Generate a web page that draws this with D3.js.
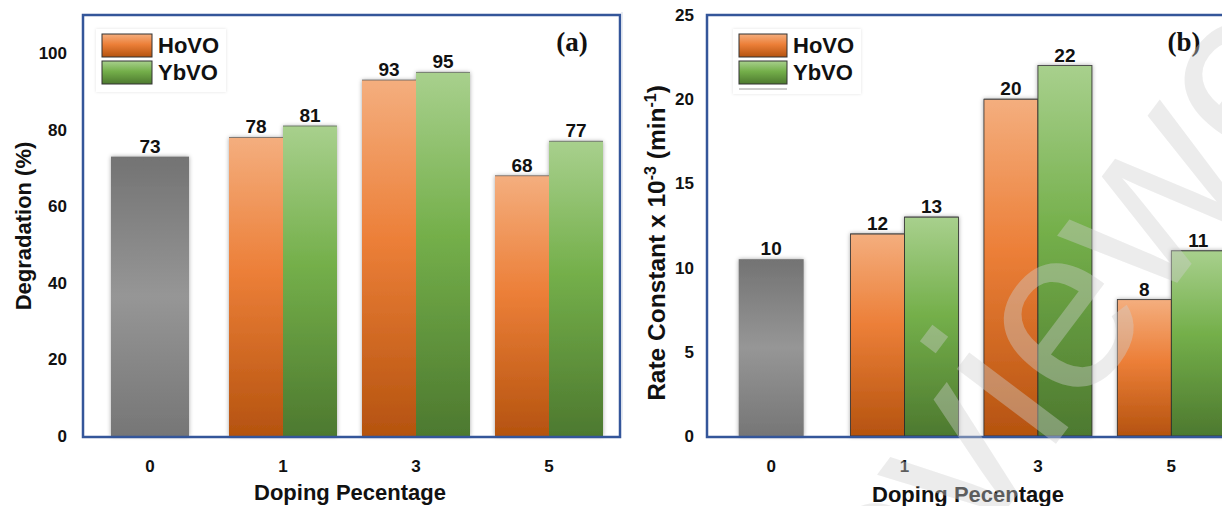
<!DOCTYPE html>
<html><head><meta charset="utf-8">
<script src="https://cdn.jsdelivr.net/npm/d3@7/dist/d3.min.js"></script>
<style>
html,body{margin:0;padding:0;background:#fff;}
svg{display:block;font-family:Arial,"Liberation Sans",sans-serif;}
</style></head>
<body><svg id="c" width="1222" height="506"></svg>
<script>
// ---- data ----
const categories = ["0", "1", "3", "5"];
const seriesNames = ["HoVO", "YbVO"];
// Panel (a): degradation (%)
const undopedDeg = 73;
const hovoDeg = [null, 78, 93, 68];
const ybvoDeg = [null, 81, 95, 77];
const degTicks = [0, 20, 40, 60, 80, 100];
// Panel (b): rate constant x 10^-3 (min^-1)
const undopedRate = 10.5;
const undopedRateLabel = "10";
const hovoRate = [null, 12, 20, 8.1];
const hovoRateLabels = [null, "12", "20", "8"];
const ybvoRate = [null, 13, 22, 11];
const ybvoRateLabels = [null, "13", "22", "11"];
const rateTicks = [0, 5, 10, 15, 20, 25];

const svg = d3.select("#c");
const defs = svg.append("defs");
function vgrad(id, stops){
  const g = defs.append("linearGradient").attr("id", id).attr("x1",0).attr("y1",0).attr("x2",0).attr("y2",1);
  stops.forEach(s => g.append("stop").attr("offset", s[0]).attr("stop-color", s[1]));
}
vgrad("gOr", [[0,"#F4AE7E"],[0.45,"#EC7F38"],[1,"#B5530F"]]);
vgrad("gGr", [[0,"#A8D08D"],[0.45,"#74AF4A"],[1,"#4D792F"]]);
vgrad("gGy", [[0,"#737373"],[0.5,"#969696"],[1,"#767676"]]);
const f = defs.append("filter").attr("id","sh").attr("x","-20%").attr("y","-10%").attr("width","140%").attr("height","120%");
f.append("feDropShadow").attr("dx",0).attr("dy",0).attr("stdDeviation",2.2).attr("flood-color","#000").attr("flood-opacity",0.35);
const fl = defs.append("filter").attr("id","shl").attr("x","-10%").attr("y","-10%").attr("width","120%").attr("height","120%");
fl.append("feDropShadow").attr("dx",0).attr("dy",0).attr("stdDeviation",1.5).attr("flood-color","#000").attr("flood-opacity",0.12);

const fills = {HoVO:"url(#gOr)", YbVO:"url(#gGr)"};
const frameColor = "#34569A";

function panel(o){
  const g = svg.append("g");
  const x = d3.scaleBand().domain(categories).range(o.xRange).padding(0);
  const y = d3.scaleLinear().domain(o.yDomain).range([o.bottom, o.top]);
  const sub = d3.scaleBand().domain(seriesNames).range([-o.pairW/2, o.pairW/2]).padding(0);

  // bars
  const bars = g.append("g").attr("filter","url(#sh)");
  const cx0 = x("0") + x.bandwidth()/2;
  bars.append("rect").attr("x", cx0 - o.grayW/2).attr("width", o.grayW)
    .attr("y", y(o.undoped)).attr("height", y(0) - y(o.undoped)).attr("fill","url(#gGy)");
  const data = [];
  categories.forEach((c,i) => {
    seriesNames.forEach((s,j) => {
      const v = o.series[j][i];
      if (v != null) data.push({c, s, v, lab: o.labels[j][i]});
    });
  });
  bars.selectAll("rect.b").data(data).join("rect").attr("class","b")
    .attr("x", d => x(d.c) + x.bandwidth()/2 + sub(d.s))
    .attr("width", sub.bandwidth())
    .attr("y", d => y(d.v)).attr("height", d => y(0) - y(d.v))
    .attr("fill", d => fills[d.s])
    .attr("stroke", o.barStroke ? "#2b2b2b" : "none").attr("stroke-width", 0.8);
  g.selectAll("line.top").data(data).join("line").attr("class","top")
    .attr("x1", d => x(d.c) + x.bandwidth()/2 + sub(d.s))
    .attr("x2", d => x(d.c) + x.bandwidth()/2 + sub(d.s) + sub.bandwidth())
    .attr("y1", d => y(d.v)).attr("y2", d => y(d.v))
    .attr("stroke","#555").attr("stroke-width",1).attr("opacity",0.7);

  // value labels
  const lab = g.append("g").attr("font-weight","bold").attr("font-size",19).attr("fill","#111").attr("text-anchor","middle");
  lab.append("text").attr("x", cx0).attr("y", y(o.undoped) - 4).text(o.undopedLabel);
  lab.selectAll("text.v").data(data).join("text").attr("class","v")
    .attr("x", d => x(d.c) + x.bandwidth()/2 + sub(d.s) + sub.bandwidth()/2)
    .attr("y", d => y(d.v) - 4).text(d => d.lab);

  // frame
  g.append("rect").attr("x", o.frameX).attr("y", o.top).attr("width", o.frameW).attr("height", o.bottom - o.top + 1)
    .attr("fill","none").attr("stroke", frameColor).attr("stroke-width", 2.5);

  // axes
  const ya = d3.axisLeft(y).tickValues(o.ticks).tickSize(0).tickPadding(o.yPad);
  const yg = g.append("g").attr("transform", `translate(${o.frameX},0)`).call(ya);
  yg.select(".domain").remove();
  yg.selectAll("text").attr("font-size",17).attr("font-weight","bold").attr("fill","#111")
    .attr("font-family","Arial,'Liberation Sans',sans-serif");
  const xa = d3.axisBottom(x).tickSize(0).tickPadding(24);
  const xg = g.append("g").attr("transform", `translate(0,${o.bottom})`).call(xa);
  xg.select(".domain").remove();
  xg.selectAll("text").attr("font-size",17).attr("font-weight","bold").attr("fill","#111")
    .attr("font-family","Arial,'Liberation Sans',sans-serif");

  // axis titles
  g.append("text").attr("x", o.xTitleX).attr("y", o.xTitleY).attr("text-anchor","middle")
    .attr("font-size",22).attr("font-weight","bold").attr("fill","#111").text("Doping Pecentage");
  const yt = g.append("text").attr("transform", `translate(${o.yTitleX},${o.yTitleY}) rotate(-90)`)
    .attr("text-anchor","middle").attr("font-size",o.yTitleSize).attr("font-weight","bold").attr("fill","#111");
  o.yTitle(yt);

  // legend
  const lg = g.append("g");
  lg.append("rect").attr("x", o.legX - 6).attr("y", 29).attr("width", o.legBoxW + 80).attr("height", o.legH)
    .attr("fill","#fff").attr("filter","url(#shl)");
  seriesNames.forEach((s,i) => {
    lg.append("rect").attr("x", o.legX).attr("y", 34 + i*27).attr("width", o.legBoxW).attr("height", 23)
      .attr("fill", fills[s]).attr("stroke","#333").attr("stroke-width",1);
    lg.append("text").attr("x", o.legX + o.legBoxW + 6).attr("y", 53 + i*27)
      .attr("font-size",22).attr("font-weight","bold").attr("fill","#111").text(s);
  });
  if (o.legLine) {
    lg.append("line").attr("x1", o.legX).attr("x2", o.legX + o.legBoxW).attr("y1", 89).attr("y2", 89)
      .attr("stroke","#9a9a9a").attr("stroke-width",1);
  }
  g.append("text").attr("x", o.tagX).attr("y", 51).attr("text-anchor","middle")
    .attr("font-family","'Times New Roman','Liberation Serif',serif").attr("font-weight","bold")
    .attr("font-size",27).attr("fill","#111").text(o.tag);
}

panel({
  xRange:[83.5, 615.5], yDomain:[0,110], top:15, bottom:436,
  pairW:108, grayW:78, undoped:undopedDeg, undopedLabel:String(undopedDeg),
  series:[hovoDeg, ybvoDeg], labels:[hovoDeg.map(v=>v==null?null:String(v)), ybvoDeg.map(v=>v==null?null:String(v))],
  frameX:83, frameW:537, ticks:degTicks, yPad:16, barStroke:false,
  xTitleX:350, xTitleY:500, yTitleX:31, yTitleY:226, yTitleSize:22,
  yTitle: t => t.text("Degradation (%)"),
  legX:102, legBoxW:50, legH:63, legLine:false, tagX:572, tag:"(a)"
});

panel({
  xRange:[704.5, 1238], yDomain:[0,25], top:15, bottom:436,
  pairW:108, grayW:65, undoped:undopedRate, undopedLabel:undopedRateLabel,
  series:[hovoRate, ybvoRate], labels:[hovoRateLabels, ybvoRateLabels],
  frameX:707, frameW:540, ticks:rateTicks, yPad:13, barStroke:true,
  xTitleX:968, xTitleY:502, yTitleX:665, yTitleY:243, yTitleSize:24.5,
  yTitle: t => { t.append("tspan").text("Rate Constant x 10");
                 t.append("tspan").attr("dy",-9).attr("font-size",16).text("-3");
                 t.append("tspan").attr("dy",9).text(" (min");
                 t.append("tspan").attr("dy",-9).attr("font-size",16).text("-1");
                 t.append("tspan").attr("dy",9).text(")"); },
  legX:739, legBoxW:48, legH:65, legLine:true, tagX:1184, tag:"(b)"
});

svg.append("line").attr("x1",622).attr("x2",622).attr("y1",12).attr("y2",420)
  .attr("stroke","#dfe5ee").attr("stroke-width",1.5);

// watermark
svg.append("text").attr("transform","translate(795,790) rotate(-53)")
  .attr("font-size",235).attr("font-family","Arial,'Liberation Sans',sans-serif")
  .attr("fill","#d0d0d0").attr("opacity",0.4).text("Reviewer");
</script></body></html>
